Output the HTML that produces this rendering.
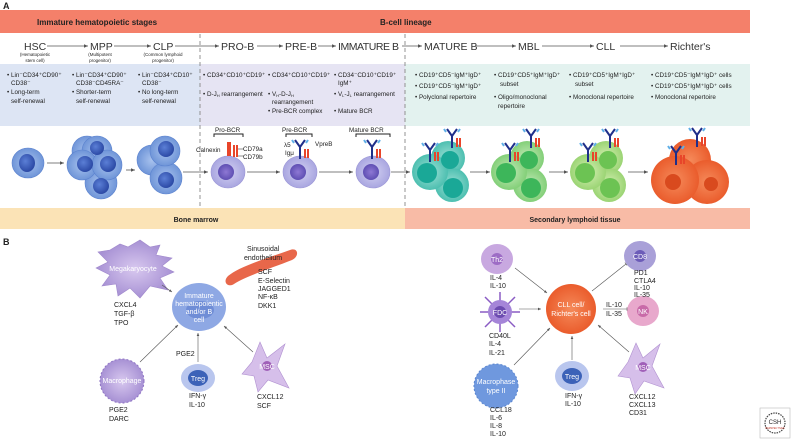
<!DOCTYPE html>
<html><head><meta charset="utf-8"><style>
html,body{margin:0;padding:0;background:#fff}
svg{display:block}
text{font-family:"Liberation Sans",sans-serif;fill:#222}
.s{font-size:6.3px}
.m{font-size:7px}
.b{font-size:8px}
.n{font-size:10.5px;fill:#333}
.w{fill:#fff;font-size:7px}
</style></head><body>
<svg width="792" height="440" viewBox="0 0 792 440" xmlns="http://www.w3.org/2000/svg">
<defs>
<radialGradient id="blue" cx="50%" cy="50%" r="50%"><stop offset="0" stop-color="#a9c3ee"/><stop offset="1" stop-color="#6f95d8"/></radialGradient>
<radialGradient id="bnuc" cx="40%" cy="40%" r="60%"><stop offset="0" stop-color="#5b7fd6"/><stop offset="1" stop-color="#2c4aa6"/></radialGradient>
<radialGradient id="lav" cx="50%" cy="50%" r="50%"><stop offset="0" stop-color="#d3d1f2"/><stop offset="1" stop-color="#a9a6e0"/></radialGradient>
<radialGradient id="pnuc"><stop offset="0" stop-color="#8e78d4"/><stop offset="1" stop-color="#5f4fb3"/></radialGradient>
<radialGradient id="teal"><stop offset="0" stop-color="#9fe0d6"/><stop offset="1" stop-color="#4dbfb0"/></radialGradient>
<radialGradient id="green"><stop offset="0" stop-color="#c3eab9"/><stop offset="1" stop-color="#83cf78"/></radialGradient>
<radialGradient id="lgreen"><stop offset="0" stop-color="#d6f0b4"/><stop offset="1" stop-color="#9bd474"/></radialGradient>
<radialGradient id="orange"><stop offset="0" stop-color="#f58a5a"/><stop offset="1" stop-color="#ea5c2c"/></radialGradient>
<radialGradient id="purp"><stop offset="0" stop-color="#d8c8ef"/><stop offset="1" stop-color="#a791d4"/></radialGradient>
<marker id="ar" markerWidth="6" markerHeight="6" refX="5" refY="3" orient="auto"><path d="M0,0.8 L5,3 L0,5.2z" fill="#555"/></marker>
<marker id="ab" markerWidth="6" markerHeight="6" refX="3" refY="3" orient="auto"><path d="M3,0 L3,6" stroke="#555" stroke-width="1"/></marker>
<g id="ab1"><path d="M0,0 V-12 M0,-12 L-5,-19 M0,-12 L5,-19" stroke="#1f2f8a" stroke-width="2" fill="none"/><path d="M-6,-16 L-8,-19 M6,-16 L8,-19" stroke="#5fb0e8" stroke-width="2"/><rect x="4" y="-10" width="2" height="9" fill="#e8452a"/><rect x="7" y="-10" width="2" height="9" fill="#e8452a"/></g>
</defs>

<text x="3" y="9" style="font-size:9px;font-weight:bold">A</text>
<rect x="0" y="10" width="750" height="23" fill="#f4806a"/>
<text x="37" y="25" class="b" style="font-weight:bold">Immature hematopoietic stages</text>
<text x="380" y="25" class="b" style="font-weight:bold">B-cell lineage</text>

<text x="24" y="50" class="n">HSC</text>
<text x="90" y="50" class="n">MPP</text>
<text x="153" y="50" class="n">CLP</text>
<text x="221" y="50" class="n">PRO-B</text>
<text x="285" y="50" class="n">PRE-B</text>
<text x="338" y="50" class="n" textLength="61">IMMATURE B</text>
<text x="424" y="50" class="n">MATURE B</text>
<text x="518" y="50" class="n">MBL</text>
<text x="596" y="50" class="n">CLL</text>
<text x="670" y="50" class="n">Richter's</text>
<g stroke="#555" stroke-width="0.8" marker-end="url(#ar)">
<line x1="47" y1="46" x2="88" y2="46"/><line x1="114" y1="46" x2="151" y2="46"/><line x1="175" y1="46" x2="219" y2="46"/>
<line x1="257" y1="46" x2="283" y2="46"/><line x1="318" y1="46" x2="336" y2="46"/><line x1="402" y1="46" x2="422" y2="46"/>
<line x1="476" y1="46" x2="516" y2="46"/><line x1="542" y1="46" x2="594" y2="46"/><line x1="620" y1="46" x2="668" y2="46"/>
</g>
<text x="35" y="56" style="font-size:4.5px" text-anchor="middle">(Hematopoietic</text>
<text x="35" y="62" style="font-size:4.5px" text-anchor="middle">stem cell)</text>
<text x="100" y="56" style="font-size:4.5px" text-anchor="middle">(Multipotent</text>
<text x="100" y="62" style="font-size:4.5px" text-anchor="middle">progenitor)</text>
<text x="163" y="56" style="font-size:4.5px" text-anchor="middle">(Common lymphoid</text>
<text x="163" y="62" style="font-size:4.5px" text-anchor="middle">progenitor)</text>

<rect x="0" y="64" width="200" height="62" fill="#dde5f4"/>
<rect x="200" y="64" width="205" height="62" fill="#e6e4f3"/>
<rect x="405" y="64" width="345" height="62" fill="#e3f2ef"/>

<g class="s">
<text x="7" y="77">• Lin⁻CD34⁺CD90⁺</text><text x="11" y="85">CD38⁻</text><text x="7" y="94">• Long-term</text><text x="11" y="103">self-renewal</text>
<text x="72" y="77">• Lin⁻CD34⁺CD90⁺</text><text x="76" y="85">CD38⁻CD45RA⁻</text><text x="72" y="94">• Shorter-term</text><text x="76" y="103">self-renewal</text>
<text x="138" y="77">• Lin⁻CD34⁺CD10⁺</text><text x="142" y="85">CD38⁻</text><text x="138" y="94">• No long-term</text><text x="142" y="103">self-renewal</text>
<text x="203" y="77">• CD34⁺CD10⁺CD19⁺</text><text x="203" y="96">• D-J<tspan style="font-size:4px" dy="1">H</tspan><tspan dy="-1"> rearrangement</tspan></text>
<text x="268" y="77">• CD34⁺CD10⁺CD19⁺</text><text x="268" y="96">• V<tspan style="font-size:4px" dy="1">H</tspan><tspan dy="-1">-D-J</tspan><tspan style="font-size:4px" dy="1">H</tspan></text><text x="272" y="104">rearrangement</text><text x="268" y="113">• Pre-BCR complex</text>
<text x="334" y="77">• CD34⁻CD10⁺CD19⁺</text><text x="338" y="85">IgM⁺</text><text x="334" y="96">• V<tspan style="font-size:4px" dy="1">L</tspan><tspan dy="-1">-J</tspan><tspan style="font-size:4px" dy="1">L</tspan><tspan dy="-1"> rearrangement</tspan></text><text x="334" y="113">• Mature BCR</text>
<text x="415" y="77">• CD19⁺CD5⁻IgM⁺IgD⁺</text><text x="415" y="88">• CD19⁺CD5⁻IgM⁺IgD⁺</text><text x="415" y="99">• Polyclonal repertoire</text>
<text x="494" y="77">• CD19⁺CD5⁺IgM⁺IgD⁺</text><text x="500" y="86">subset</text><text x="494" y="99">• Oligo/monoclonal</text><text x="498" y="108">repertoire</text>
<text x="569" y="77">• CD19⁺CD5⁺IgM⁺IgD⁺</text><text x="575" y="86">subset</text><text x="569" y="99">• Monoclonal repertoire</text>
<text x="651" y="77">• CD19⁺CD5⁻IgM⁺IgD⁺ cells</text><text x="651" y="88">• CD19⁺CD5⁺IgM⁺IgD⁺ cells</text><text x="651" y="99">• Monoclonal repertoire</text>
</g>

<line x1="200" y1="34" x2="200" y2="228" stroke="#888" stroke-dasharray="4,3" stroke-width="0.9"/>
<line x1="405" y1="34" x2="405" y2="208" stroke="#888" stroke-dasharray="4,3" stroke-width="0.9"/>

<g stroke="#5c83cf" stroke-width="0.6">
<ellipse cx="28" cy="163" rx="16" ry="15" fill="url(#blue)"/><ellipse cx="27" cy="163" rx="8" ry="9" fill="url(#bnuc)" stroke="none"/>
<circle cx="87" cy="151" r="15" fill="url(#blue)"/><circle cx="97" cy="151" r="15" fill="url(#blue)"/>
<circle cx="101" cy="183" r="16" fill="url(#blue)"/>
<circle cx="82" cy="165" r="15" fill="url(#blue)"/><circle cx="107" cy="165" r="15" fill="url(#blue)"/>
<circle cx="85" cy="164" r="8" fill="url(#bnuc)" stroke="none"/><circle cx="108" cy="164" r="8" fill="url(#bnuc)" stroke="none"/>
<circle cx="97" cy="148" r="7" fill="url(#bnuc)" stroke="none"/><circle cx="101" cy="186" r="8" fill="url(#bnuc)" stroke="none"/>
<circle cx="152" cy="160" r="15" fill="url(#blue)"/><circle cx="166" cy="178" r="16" fill="url(#blue)"/><circle cx="165" cy="151" r="15" fill="url(#blue)"/>
<circle cx="166" cy="149" r="8" fill="url(#bnuc)" stroke="none"/><circle cx="166" cy="180" r="8" fill="url(#bnuc)" stroke="none"/>
</g>
<g stroke="#9a95d6" stroke-width="0.6">
<ellipse cx="228" cy="172" rx="17" ry="16" fill="url(#lav)"/><circle cx="226" cy="172" r="8" fill="url(#pnuc)" stroke="none"/>
<ellipse cx="300" cy="172" rx="17" ry="16" fill="url(#lav)"/><circle cx="298" cy="172" r="8" fill="url(#pnuc)" stroke="none"/>
<ellipse cx="373" cy="172" rx="17" ry="16" fill="url(#lav)"/><circle cx="371" cy="172" r="8" fill="url(#pnuc)" stroke="none"/>
</g>
<rect x="227" y="142" width="4" height="14" fill="#e8452a"/><rect x="233" y="145" width="2" height="12" fill="#e8452a"/><rect x="236" y="145" width="2" height="12" fill="#e8452a"/>
<path d="M214,137 V134 H243 V137" stroke="#222" fill="none" stroke-width="1"/>
<path d="M286,137 V134 H312 V137" stroke="#222" fill="none" stroke-width="1"/>
<path d="M356,137 V134 H390 V137" stroke="#222" fill="none" stroke-width="1"/>
<use href="#ab1" x="300" y="159"/>
<use href="#ab1" x="372" y="159"/>
<g class="s">
<text x="215" y="132">Pro-BCR</text><text x="196" y="152">Calnexin</text><text x="243" y="151">CD79a</text><text x="243" y="159">CD79b</text>
<text x="282" y="132">Pre-BCR</text><text x="284" y="147">λ5</text><text x="285" y="155">Igμ</text><text x="315" y="146">VpreB</text>
<text x="349" y="132">Mature BCR</text>
</g>
<line x1="238" y1="149" x2="244" y2="149" stroke="#222" stroke-width="0.5"/><line x1="238" y1="156" x2="244" y2="156" stroke="#222" stroke-width="0.5"/>

<g stroke="#555" stroke-width="0.8" marker-end="url(#ar)">
<line x1="47" y1="163" x2="64" y2="163"/><line x1="126" y1="170" x2="135" y2="170"/><line x1="183" y1="172" x2="208" y2="172"/>
<line x1="247" y1="172" x2="280" y2="172"/><line x1="319" y1="172" x2="353" y2="172"/><line x1="391" y1="172" x2="410" y2="172"/>
<line x1="470" y1="172" x2="490" y2="172"/><line x1="549" y1="172" x2="568" y2="172"/><line x1="628" y1="172" x2="648" y2="172"/>
</g>
<g>
<circle cx="448" cy="158" r="17" fill="url(#teal)"/><circle cx="452" cy="185" r="17" fill="url(#teal)"/><circle cx="430" cy="172" r="18" fill="url(#teal)"/>
<circle cx="427" cy="173" r="10" fill="#1aa897"/><circle cx="450" cy="160" r="9" fill="#1aa897"/><circle cx="453" cy="188" r="10" fill="#1aa897"/>
<use href="#ab1" x="430" y="162"/><use href="#ab1" x="452" y="148"/>
<circle cx="527" cy="158" r="17" fill="url(#green)"/><circle cx="530" cy="185" r="17" fill="url(#green)"/><circle cx="509" cy="172" r="18" fill="url(#green)"/>
<circle cx="506" cy="173" r="10" fill="#3db65a"/><circle cx="529" cy="160" r="9" fill="#3db65a"/><circle cx="531" cy="188" r="10" fill="#3db65a"/>
<use href="#ab1" x="510" y="162"/><use href="#ab1" x="531" y="148"/>
<circle cx="606" cy="158" r="17" fill="url(#lgreen)"/><circle cx="609" cy="185" r="17" fill="url(#lgreen)"/><circle cx="588" cy="172" r="18" fill="url(#lgreen)"/>
<circle cx="585" cy="173" r="10" fill="#6cc353"/><circle cx="608" cy="160" r="9" fill="#6cc353"/><circle cx="610" cy="188" r="10" fill="#6cc353"/>
<use href="#ab1" x="588" y="162"/><use href="#ab1" x="610" y="148"/>
<circle cx="690" cy="160" r="21" fill="url(#orange)"/><circle cx="707" cy="182" r="22" fill="url(#orange)"/><circle cx="675" cy="180" r="24" fill="url(#orange)"/>
<circle cx="673" cy="182" r="8" fill="#d94a1e"/><circle cx="711" cy="184" r="7" fill="#d94a1e"/>
<use href="#ab1" x="676" y="165"/><use href="#ab1" x="697" y="147"/>
</g>

<rect x="0" y="208" width="405" height="21" fill="#fbe3b6"/>
<rect x="405" y="208" width="345" height="21" fill="#f8bba6"/>
<text x="196" y="222" class="m" text-anchor="middle" style="font-weight:bold">Bone marrow</text>
<text x="575" y="222" class="m" text-anchor="middle" style="font-weight:bold">Secondary lymphoid tissue</text>

<text x="3" y="245" style="font-size:9px;font-weight:bold">B</text>
<path d="M110,250 L120,244 L128,247 L140,240 L150,247 L160,245 L156,255 L172,258 L162,266 L174,272 L160,278 L168,290 L150,286 L140,298 L130,288 L118,296 L116,284 L102,286 L110,275 L96,268 L108,262 L98,252z" fill="url(#purp)" stroke="#a088cc" stroke-width="0.6"/>
<text x="133" y="271" class="w" text-anchor="middle">Megakaryocyte</text>
<ellipse cx="199" cy="307" rx="27" ry="24" fill="#8ea8e4"/><ellipse cx="200" cy="310" rx="14" ry="9" fill="#6f8dd6"/>
<text x="199" y="298" class="w" text-anchor="middle">Immature</text><text x="199" y="306" class="w" text-anchor="middle">hematopoientic</text><text x="199" y="314" class="w" text-anchor="middle">and/or B</text><text x="199" y="322" class="w" text-anchor="middle">cell</text>
<path d="M228,276 C240,266 268,258 290,250 C298,247 300,256 292,260 C272,268 246,276 234,284 C228,288 222,282 228,276z" fill="#e8674a"/>
<g class="m">
<text x="114" y="307">CXCL4</text><text x="114" y="316">TGF-β</text><text x="114" y="325">TPO</text>
<text x="247" y="251">Sinusoidal</text><text x="244" y="260">endothelium</text>
<text x="258" y="274">SCF</text><text x="258" y="283">E-Selectin</text><text x="258" y="291">JAGGED1</text><text x="258" y="299">NF-κB</text><text x="258" y="308">DKK1</text>
<text x="176" y="356">PGE2</text>
<text x="109" y="412">PGE2</text><text x="109" y="421">DARC</text>
<text x="189" y="398">IFN-γ</text><text x="189" y="407">IL-10</text>
<text x="257" y="399">CXCL12</text><text x="257" y="408">SCF</text>
</g>
<circle cx="122" cy="381" r="22" fill="url(#purp)" stroke="#8f74c4" stroke-dasharray="2,2"/>
<text x="122" y="383" class="w" text-anchor="middle">Macrophage</text>
<ellipse cx="198" cy="378" rx="17" ry="14" fill="#b9c6ee"/><ellipse cx="198" cy="378" rx="10" ry="8" fill="#3c62b8"/><text x="198" y="381" class="w" text-anchor="middle">Treg</text>
<path d="M260,342 L267,358 L285,344 L277,366 L289,388 L268,380 L258,392 L254,376 L242,374 L252,362z" fill="#d6bfea" stroke="#b090d0" stroke-width="0.6"/>
<circle cx="267" cy="366" r="5" fill="#a060b8"/><text x="267" y="369" class="w" text-anchor="middle">MSC</text>
<g stroke="#555" stroke-width="0.6" marker-end="url(#ar)">
<line x1="162" y1="285" x2="172" y2="292"/><line x1="140" y1="362" x2="178" y2="325"/><line x1="198" y1="362" x2="198" y2="333"/><line x1="253" y1="352" x2="224" y2="326"/>
</g>

<circle cx="571" cy="309" r="25" fill="url(#orange)"/>
<text x="571" y="307" class="w" text-anchor="middle">CLL cell/</text><text x="571" y="316" class="w" text-anchor="middle">Richter's cell</text>
<ellipse cx="497" cy="259" rx="16" ry="15" fill="#c8a8e0"/><circle cx="497" cy="259" r="6" fill="#9d6cc5"/><text x="497" y="262" class="w" text-anchor="middle">Th2</text>
<g stroke="#8a5cc4" stroke-width="1.5"><line x1="480" y1="312" x2="520" y2="312"/><line x1="500" y1="292" x2="500" y2="332"/><line x1="485" y1="297" x2="515" y2="327"/><line x1="485" y1="327" x2="515" y2="297"/></g>
<circle cx="500" cy="312" r="12" fill="#a585d8"/><circle cx="500" cy="312" r="6" fill="#6c4bb0"/><text x="500" y="315" class="w" text-anchor="middle">FDC</text>
<circle cx="496" cy="386" r="22" fill="#6f98de" stroke="#5a86d0" stroke-dasharray="2,2"/>
<text x="496" y="384" class="w" text-anchor="middle">Macrophase</text><text x="496" y="393" class="w" text-anchor="middle">type II</text>
<ellipse cx="572" cy="376" rx="17" ry="15" fill="#b9c6ee"/><ellipse cx="572" cy="376" rx="10" ry="8" fill="#3c62b8"/><text x="572" y="379" class="w" text-anchor="middle">Treg</text>
<ellipse cx="640" cy="256" rx="16" ry="15" fill="#a9a0d8"/><circle cx="640" cy="256" r="6" fill="#6c5cb8"/><text x="640" y="259" class="w" text-anchor="middle">CD8</text>
<ellipse cx="643" cy="311" rx="16" ry="15" fill="#e8a8cc"/><circle cx="643" cy="311" r="6" fill="#c86aa8"/><text x="643" y="314" class="w" text-anchor="middle">NK</text>
<path d="M636,343 L643,358 L660,344 L652,366 L664,388 L644,381 L635,394 L630,378 L618,376 L628,362z" fill="#d6bfea" stroke="#b090d0" stroke-width="0.6"/>
<circle cx="643" cy="367" r="5" fill="#a060b8"/><text x="643" y="370" class="w" text-anchor="middle">MSC</text>
<g class="m">
<text x="490" y="280">IL-4</text><text x="490" y="288">IL-10</text>
<text x="489" y="338">CD40L</text><text x="489" y="346">IL-4</text><text x="489" y="355">IL-21</text>
<text x="490" y="412">CCL18</text><text x="490" y="420">IL-6</text><text x="490" y="428">IL-8</text><text x="490" y="436">IL-10</text>
<text x="565" y="398">IFN-γ</text><text x="565" y="406">IL-10</text>
<text x="634" y="275">PD1</text><text x="634" y="283">CTLA4</text><text x="634" y="290">IL-10</text><text x="634" y="297">IL-35</text>
<text x="606" y="307">IL-10</text><text x="606" y="316">IL-35</text>
<text x="629" y="399">CXCL12</text><text x="629" y="407">CXCL13</text><text x="629" y="415">CD31</text>
</g>
<g stroke="#555" stroke-width="0.6" marker-end="url(#ar)">
<line x1="515" y1="268" x2="547" y2="293"/><line x1="519" y1="309" x2="541" y2="309"/><line x1="514" y1="365" x2="550" y2="328"/><line x1="572" y1="360" x2="572" y2="336"/><line x1="629" y1="352" x2="598" y2="325"/>
</g>
<g stroke="#555" stroke-width="0.6" marker-end="url(#ab)">
<line x1="592" y1="291" x2="626" y2="264"/><line x1="603" y1="309" x2="627" y2="309"/>
</g>
<rect x="760" y="408" width="30" height="30" fill="#fff" stroke="#bbb" stroke-width="0.6"/>
<circle cx="775" cy="423" r="10" fill="none" stroke="#444" stroke-width="1.2" stroke-dasharray="1.5,1"/>
<text x="775" y="424" text-anchor="middle" style="font-size:6px">CSH</text>
<text x="775" y="429" text-anchor="middle" style="font-size:2.5px;fill:#c0392b">PERSPECTIVES</text>
</svg>
</body></html>
